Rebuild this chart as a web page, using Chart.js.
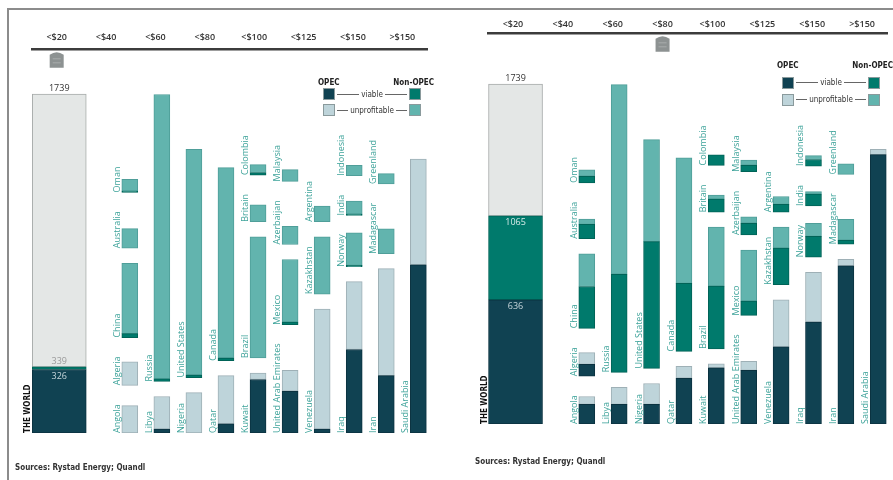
<!DOCTYPE html>
<html>
<head>
<meta charset="utf-8">
<script src="https://cdn.jsdelivr.net/npm/chart.js"></script>
<style>
  body { margin: 0; background: #fff; }
  #wrap { position: relative; width: 893px; height: 480px; overflow: hidden; background: #fff; }
  .frame-top { position: absolute; left: 7px; top: 8px; width: 886px; border-top: 2px solid #8c8c8c; }
  .frame-left { position: absolute; left: 7px; top: 8px; height: 472px; border-left: 2px solid #8c8c8c; }
  canvas { position: absolute; top: 0; }
  .legend { position: absolute; width: 116px; font: 8px "DejaVu Sans Condensed", sans-serif; color: #333; }
  .lg-head { display: flex; justify-content: space-between; line-height: 10px; font-weight: bold; color: #222; }
  .lg-row { display: flex; align-items: center; width: 98px; margin-left: 5px; }
  .lg-row i { width: 12px; height: 12px; box-sizing: border-box; border: 1px solid #8a9a9c; }
  .lg-row b { flex: 1; border-top: 1px solid #666; margin: 0 2px; }
  .source { position: absolute; font: bold 8px "DejaVu Sans Condensed", sans-serif; color: #333; }
</style>
</head>
<body>
<div id="wrap">
  <div class="frame-top"></div>
  <div class="frame-left"></div>
  <canvas id="left" width="445" height="480" style="left:0"></canvas>
  <canvas id="right" width="445" height="480" style="left:448px"></canvas>

  <div class="legend" style="left:318px; top:78px">
    <div class="lg-head" style="height:8px"><span>OPEC</span><span>Non-OPEC</span></div>
    <div class="lg-row" style="height:16px"><i style="background:#104252"></i><b></b><span>viable</span><b></b><i style="background:#007a6c"></i></div>
    <div class="lg-row" style="height:16px"><i style="background:#bed4da"></i><b></b><span>unprofitable</span><b></b><i style="background:#62b4ae"></i></div>
  </div>
  <div class="legend" style="left:777px; top:61px">
    <div class="lg-head" style="height:13px"><span>OPEC</span><span>Non-OPEC</span></div>
    <div class="lg-row" style="height:17px"><i style="background:#104252"></i><b></b><span>viable</span><b></b><i style="background:#007a6c"></i></div>
    <div class="lg-row" style="height:17px"><i style="background:#bed4da"></i><b></b><span>unprofitable</span><b></b><i style="background:#62b4ae"></i></div>
  </div>

  <div class="source" style="left:15px; top:463px">Sources: Rystad Energy; Quandl</div>
  <div class="source" style="left:475px; top:457px">Sources: Rystad Energy; Quandl</div>
</div>

<script>
// recoverable oil, bn barrels, split by break-even oil price
const priceBands = ['<$20', '<$40', '<$60', '<$80', '<$100', '<$125', '<$150', '>$150'];

const countries = ['Angola', 'Algeria', 'China', 'Australia', 'Oman',
  'Libya', 'Russia', 'Nigeria', 'United States', 'Qatar', 'Canada',
  'Kuwait', 'Brazil', 'Britain', 'Colombia',
  'United Arab Emirates', 'Mexico', 'Azerbaijan', 'Malaysia',
  'Venezuela', 'Kazakhstan', 'Argentina',
  'Iraq', 'Norway', 'India', 'Indonesia',
  'Iran', 'Madagascar', 'Greenland', 'Saudi Arabia'];
const column = [1, 1, 1, 1, 1, 2, 2, 3, 3, 4, 4, 5, 5, 5, 5, 6, 6, 6, 6, 7, 7, 7, 8, 8, 8, 8, 9, 9, 9, 10];
const opec = [1, 1, 0, 0, 0, 1, 0, 1, 0, 1, 0, 1, 0, 0, 0, 1, 0, 0, 0, 1, 0, 0, 1, 0, 0, 0, 1, 0, 0, 1];
const reserves = [21, 18, 57, 15, 10, 28, 220, 31, 175, 44, 148, 46, 93, 13, 8, 48, 50, 14, 9, 95, 44, 12, 116, 26, 11, 8, 126, 19, 8, 210];
const viableAt20 = [0, 0, 3, 0, 1, 3, 2, 0, 2, 7, 2, 41, 0, 0, 2, 32, 2, 0, 0, 3, 0, 0, 64, 1, 1, 0, 44, 0, 0, 129];
const viableAt80 = [15, 9, 32, 11, 5, 15, 75, 15, 97, 35, 52, 43, 48, 10, 8, 41, 11, 9, 5, 59, 28, 6, 78, 16, 9, 5, 121, 3, 0, 206];

const worldTotal = 1739;
const worldOpecViable = [326, 636];
const worldNonOpecViable = [13, 429];

const OPEC_VIABLE = '#104252', OPEC_UNPROF = '#bed4da';
const NON_VIABLE = '#007a6c', NON_UNPROF = '#62b4ae';
const WORLD_UNPROF = '#e4e7e6';
const LABEL_FONT = '9px "Open Sans"';
const BAR_W = 16, WORLD_W = 54;
const WORLD_X = -1.2;
const UNIT_PER_PX = 0.765;      // country scale
const WORLD_UNIT_PER_PX = 5.12; // world bar scale

// stack the countries of each column upwards, leaving room for the labels
const mctx = document.createElement('canvas').getContext('2d');
mctx.font = LABEL_FONT;
const base = [];
const colTop = {};
countries.forEach((c, i) => {
  const b = colTop[column[i]] || 0;
  base[i] = b;
  const labelLen = (mctx.measureText(c).width + 4) * UNIT_PER_PX;
  colTop[column[i]] = b + Math.max(reserves[i], labelLen) + 15 * UNIT_PER_PX;
});

const segments = (viable, isOpec, part) => {
  const out = [];
  countries.forEach((c, i) => {
    if (opec[i] !== isOpec) return;
    const v = viable[i];
    if (part === 'viable' && v > 0) out.push({ x: column[i], y: [base[i], base[i] + v] });
    if (part === 'unprof' && reserves[i] > v) out.push({ x: column[i], y: [base[i] + v, base[i] + reserves[i]] });
  });
  return out;
};

const barSet = (data, color, border, yAxisID, width) => ({
  data: data,
  backgroundColor: color,
  borderColor: border,
  borderWidth: 1,
  borderSkipped: false,
  barThickness: width,
  grouped: false,
  xAxisID: 'x',
  yAxisID: yAxisID
});

const drawRotated = (ctx, text, x, y) => {
  ctx.save();
  ctx.translate(x, y);
  ctx.rotate(-Math.PI / 2);
  ctx.fillText(text, 0, 0);
  ctx.restore();
};

const labelPlugin = {
  id: 'labels',
  afterDatasetsDraw(chart, args, opts) {
    const ctx = chart.ctx;
    const x = chart.scales.x, y = chart.scales.y, yw = chart.scales.yW;
    ctx.save();
    ctx.font = LABEL_FONT;
    ctx.fillStyle = '#3ea39a';
    ctx.textAlign = 'left';
    ctx.textBaseline = 'alphabetic';
    countries.forEach((c, i) => {
      drawRotated(ctx, c, x.getPixelForValue(column[i]) - BAR_W / 2 - 2, y.getPixelForValue(base[i]));
    });

    // world bar
    const wx = x.getPixelForValue(WORLD_X);
    ctx.font = 'bold 8px "DejaVu Sans Condensed"';
    ctx.fillStyle = '#111';
    drawRotated(ctx, 'THE WORLD', wx - WORLD_W / 2 - 2, yw.getPixelForValue(0));

    ctx.textAlign = 'center';
    ctx.font = '9px "Open Sans"';
    ctx.fillStyle = '#333';
    ctx.textBaseline = 'bottom';
    ctx.fillText(String(worldTotal), wx, yw.getPixelForValue(worldTotal) - 1);

    const op = worldOpecViable[opts.world];
    const cum = op + worldNonOpecViable[opts.world];
    const cumTop = yw.getPixelForValue(cum);
    if (yw.getPixelForValue(op) - cumTop > 14) {
      ctx.textBaseline = 'top';
      ctx.fillStyle = '#d6ece9';
      ctx.fillText(String(cum), wx, cumTop + 2);
    } else {
      ctx.textBaseline = 'bottom';
      ctx.fillStyle = '#9a9a9a';
      ctx.fillText(String(cum), wx, cumTop - 1);
    }
    ctx.textBaseline = 'top';
    ctx.fillStyle = '#c6d5da';
    ctx.fillText(String(op), wx, yw.getPixelForValue(op) + 2);
    ctx.restore();
  },
  afterDraw(chart, args, opts) {
    // price slider marker
    const ctx = chart.ctx;
    const cx = chart.scales.xTop.getPixelForValue(opts.price);
    const top = chart.chartArea.top + 2;
    ctx.save();
    ctx.fillStyle = '#8d9292';
    ctx.beginPath();
    ctx.moveTo(cx - 7, top + 4);
    ctx.quadraticCurveTo(cx, top - 1, cx + 7, top + 4);
    ctx.lineTo(cx + 7, top + 17);
    ctx.lineTo(cx - 7, top + 17);
    ctx.closePath();
    ctx.fill();
    ctx.strokeStyle = '#a9adad';
    ctx.lineWidth = 1;
    ctx.beginPath();
    ctx.moveTo(cx - 4, top + 8);
    ctx.lineTo(cx + 4, top + 8);
    ctx.moveTo(cx - 4, top + 12);
    ctx.lineTo(cx + 4, top + 12);
    ctx.stroke();
    ctx.restore();
  }
};

const panels = [
  { id: 'left', price: 0, world: 0, viable: viableAt20, area: 385, tickPad: 6, pad: { top: 26, left: 32, right: 18, bottom: 47 } },
  { id: 'right', price: 3, world: 1, viable: viableAt80, area: 391, tickPad: 3, pad: { top: 16, left: 40, right: 6, bottom: 56 } }
];

panels.forEach(p => {
  const op = worldOpecViable[p.world];
  const cum = op + worldNonOpecViable[p.world];
  new Chart(document.getElementById(p.id), {
    type: 'bar',
    data: {
      datasets: [
        barSet([{ x: WORLD_X, y: [0, op] }], OPEC_VIABLE, '#0b3240', 'yW', WORLD_W),
        barSet([{ x: WORLD_X, y: [op, cum] }], NON_VIABLE, '#006357', 'yW', WORLD_W),
        barSet([{ x: WORLD_X, y: [cum, worldTotal] }], WORLD_UNPROF, '#a7abaa', 'yW', WORLD_W),
        barSet(segments(p.viable, 1, 'viable'), OPEC_VIABLE, '#0b3240', 'y', BAR_W),
        barSet(segments(p.viable, 1, 'unprof'), OPEC_UNPROF, '#9eb0b6', 'y', BAR_W),
        barSet(segments(p.viable, 0, 'viable'), NON_VIABLE, '#006357', 'y', BAR_W),
        barSet(segments(p.viable, 0, 'unprof'), NON_UNPROF, '#4f9e99', 'y', BAR_W)
      ]
    },
    options: {
      responsive: false,
      animation: false,
      layout: { padding: p.pad },
      plugins: {
        legend: { display: false },
        tooltip: { enabled: false },
        labels: { price: p.price, world: p.world }
      },
      scales: {
        x: { type: 'linear', min: -2.05, max: 10.27, offset: false, display: false },
        xTop: {
          type: 'category',
          labels: priceBands,
          position: 'top',
          offset: true,
          grid: { display: false, drawTicks: false },
          border: { display: true, color: '#3c3c3c', width: 2.5 },
          ticks: {
            padding: p.tickPad, maxRotation: 0, autoSkip: false, color: '#333',
            font: { family: 'Open Sans', size: 9, weight: '600' }
          }
        },
        y: { type: 'linear', min: 0, max: p.area * UNIT_PER_PX, display: false },
        yW: { type: 'linear', min: 0, max: p.area * WORLD_UNIT_PER_PX, display: false }
      }
    },
    plugins: [labelPlugin]
  });
});
</script>
</body>
</html>
